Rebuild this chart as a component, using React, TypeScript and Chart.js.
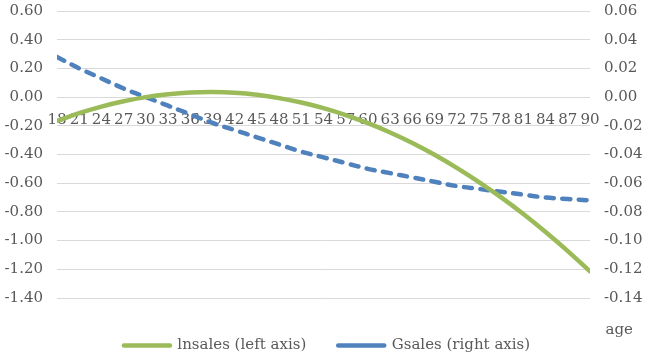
import { useEffect, useRef } from "react";
import { Chart, registerables } from "chart.js";

Chart.register(...registerables);

const ages = [18, 21, 24, 27, 30, 33, 36, 39, 42, 45, 48, 51, 54, 57, 60, 63, 66, 69, 72, 75, 78, 81, 84, 87, 90];
const lnsales = [-0.166, -0.112, -0.066, -0.029, 0.0, 0.02, 0.032, 0.035, 0.03, 0.016, -0.007, -0.038, -0.077, -0.125, -0.182, -0.247, -0.32, -0.402, -0.493, -0.592, -0.699, -0.815, -0.94, -1.073, -1.215];
const gsales = [0.028, 0.02, 0.013, 0.006, 0.0, -0.006, -0.012, -0.018, -0.023, -0.028, -0.033, -0.038, -0.042, -0.046, -0.05, -0.053, -0.056, -0.059, -0.062, -0.064, -0.066, -0.068, -0.07, -0.071, -0.072];

const leftMin = -1.4;
const leftMax = 0.6;
const leftStep = 0.2;
const rightMin = -0.14;
const rightMax = 0.06;
const rightStep = 0.02;
const seriesLabels = ["lnsales (left axis)", "Gsales (right axis)"];
const xTitle = "age";

const FAMILY = "'DejaVu Serif', serif";
const SIZE = 15;
const TEXT = "#595959";

const noLabelClip = (s: any) => {
  s._computeLabelArea = () => undefined;
  s.paddingTop = 0;
  s.paddingBottom = 0;
};

export default function App() {
  const ref = useRef<HTMLCanvasElement>(null);
  useEffect(() => {
    Chart.defaults.font.family = FAMILY;
    Chart.defaults.font.size = SIZE;
    Chart.defaults.color = TEXT;
    const font = { family: FAMILY, size: SIZE };
    const chart = new Chart(ref.current!, {
      type: "line",
      data: {
        datasets: [
          {
            label: seriesLabels[0],
            data: ages.map((a, i) => ({ x: a, y: lnsales[i] })),
            yAxisID: "y",
            borderColor: "#9BBB59",
            backgroundColor: "#9BBB59",
            borderWidth: 4.5,
            pointRadius: 0,
            tension: 0.4,
            borderCapStyle: "round",
          },
          {
            label: seriesLabels[1],
            data: ages.map((a, i) => ({ x: a, y: gsales[i] })),
            yAxisID: "y2",
            borderColor: "#4F81BD",
            backgroundColor: "#4F81BD",
            borderWidth: 4.5,
            borderDash: [8, 8.5],
            borderCapStyle: "round",
            pointRadius: 0,
            tension: 0.4,
          },
        ],
      },
      options: {
        animation: false,
        responsive: false,
        layout: { padding: { top: 11, right: 13, left: 21, bottom: -3 } },
        scales: {
          x: {
            type: "linear",
            position: { y: 0 } as any,
            min: 18,
            max: 90,
            grid: { display: false, drawTicks: false },
            border: { display: false },
            ticks: {
              stepSize: 3,
              autoSkip: false,
              maxRotation: 0,
              padding: 14,
              font,
              color: TEXT,
            },
          },
          y: {
            position: "left",
            min: leftMin,
            max: leftMax,
            grid: { color: "#D9D9D9", drawTicks: false, lineWidth: 1 },
            border: { display: false },
            ticks: {
              stepSize: leftStep,
              padding: 14,
              font,
              color: TEXT,
              callback: (v: any) => Number(v).toFixed(2),
            },
            afterFit: (s: any) => {
              s.width = 36;
              noLabelClip(s);
            },
          },
          y2: {
            position: "right",
            min: rightMin,
            max: rightMax,
            grid: { display: false, drawTicks: false },
            border: { display: false },
            ticks: {
              stepSize: rightStep,
              padding: 14,
              font,
              color: TEXT,
              callback: (v: any) => Number(v).toFixed(2),
            },
            afterFit: (s: any) => {
              s.width = 43;
              noLabelClip(s);
            },
          },
        },
        plugins: {
          tooltip: { enabled: false },
          title: {
            display: true,
            text: xTitle,
            position: "bottom",
            align: "end",
            weight: 500,
            color: TEXT,
            font: { family: FAMILY, size: SIZE, weight: "normal" },
            padding: { top: 23, bottom: -33 },
          } as any,
          legend: {
            position: "bottom",
            labels: {
              usePointStyle: true,
              pointStyle: "line",
              pointStyleWidth: 46,
              padding: 32,
              color: TEXT,
              font,
              generateLabels: (c: any) => {
                const items = (Chart.defaults.plugins.legend.labels as any).generateLabels(c);
                items.forEach((it: any) => {
                  it.lineWidth = 4.5;
                  it.lineCap = "round";
                  it.fontColor = TEXT;
                });
                return items;
              },
            },
          },
        },
      },
    });
    return () => chart.destroy();
  }, []);
  return (
    <div style={{ position: "absolute", left: 0, top: 0, width: 646, height: 360, background: "#fff" }}>
      <canvas ref={ref} width={646} height={360} />
    </div>
  );
}
